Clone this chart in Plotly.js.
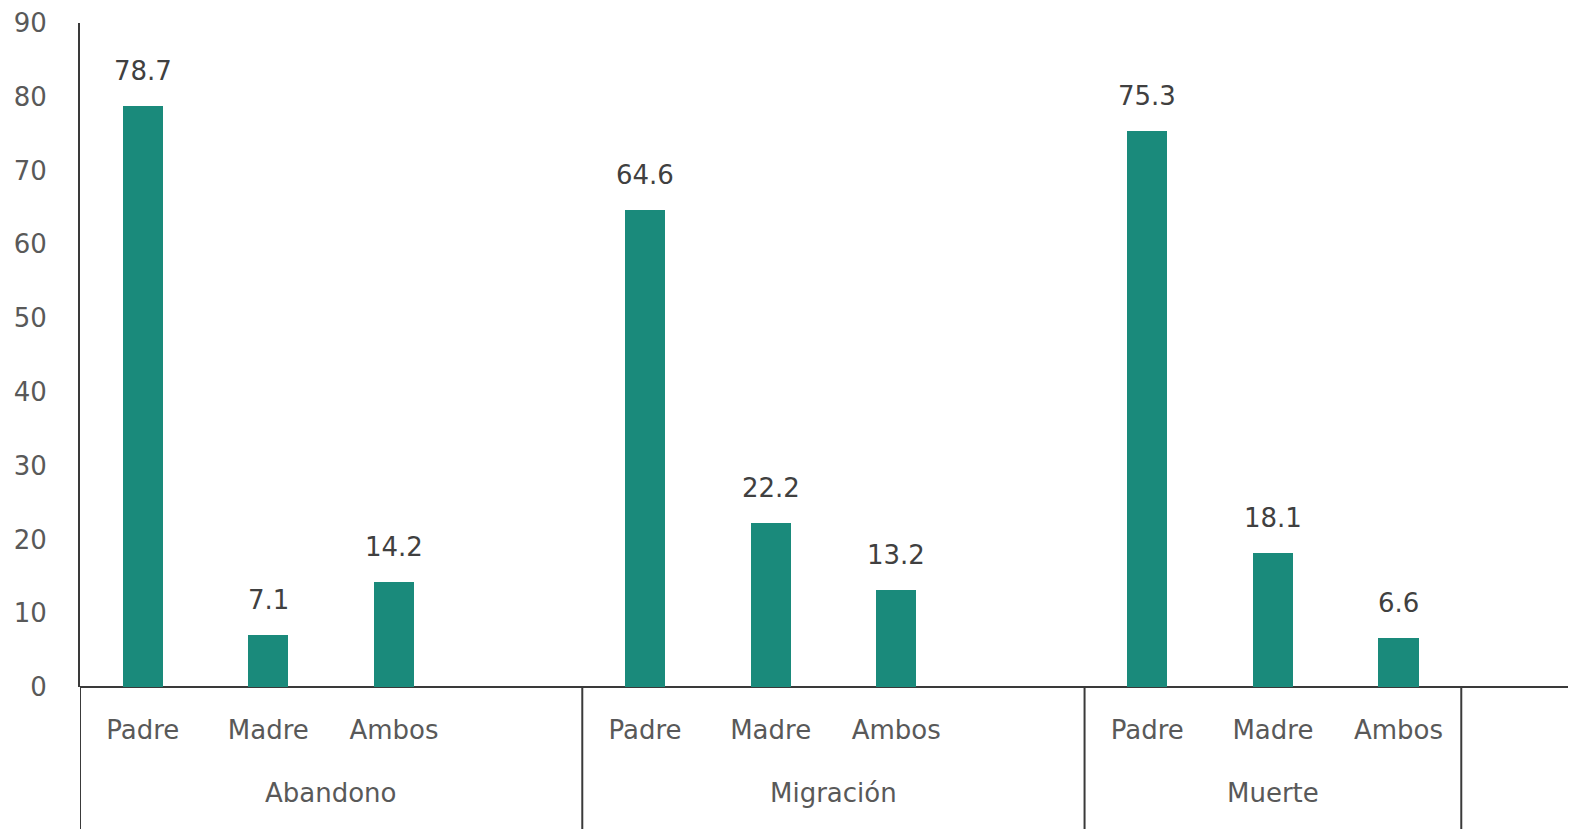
<!DOCTYPE html>
<html>
<head>
<meta charset="utf-8">
<script src="https://cdn.plot.ly/plotly-3.0.1.min.js"></script>
<style>html,body{margin:0;padding:0;background:#fff;overflow:hidden;}#chart{width:1596px;height:829px;display:block;}</style>
</head>
<body>
<div id="chart"></div>
<script>
var groups = ["Abandono", "Migración", "Muerte"];
var categories = ["Padre", "Madre", "Ambos"];
var abandono = [78.7, 7.1, 14.2];
var migracion = [64.6, 22.2, 13.2];
var muerte = [75.3, 18.1, 6.6];
var yTicks = [0, 10, 20, 30, 40, 50, 60, 70, 80, 90];

var seriesByGroup = [abandono, migracion, muerte];
var slotsPerGroup = 4;
var xs = [], ys = [], tickvals = [], ticktext = [], labels = [];
seriesByGroup.forEach(function (vals, g) {
  vals.forEach(function (v, c) {
    var pos = g * slotsPerGroup + c;
    xs.push(pos); ys.push(v); labels.push(v.toFixed(1));
    tickvals.push(pos); ticktext.push(categories[c]);
  });
});

var fontFam = "'DejaVu Sans', sans-serif";
var fs = 26;
var lineCol = "#3a3a3a";

// group boundaries
var bounds = [-0.5];
for (var g = 0; g < groups.length; g++) {
  bounds.push(g * slotsPerGroup + categories.length - 0.5 + (g < groups.length - 1 ? 1 : 0));
}
var shapes = bounds.map(function (b) {
  return {type: "line", xref: "x", yref: "paper", x0: b, x1: b, y0: 0, y1: -0.23,
          line: {color: lineCol, width: 2}};
});
var annotations = groups.map(function (name, g) {
  return {xref: "x", yref: "paper", x: (bounds[g] + bounds[g + 1]) / 2, y: -0.16,
          text: name, showarrow: false, yanchor: "middle",
          font: {family: fontFam, size: fs, color: "#595959"}};
});
xs.forEach(function (x, i) {
  annotations.push({xref: "x", yref: "y", x: x, y: ys[i], text: labels[i],
    showarrow: false, yanchor: "bottom", yshift: 18,
    font: {family: fontFam, size: fs, color: "#404040"}});
});

var trace = {
  type: "bar", x: xs, y: ys, width: 0.32,
  marker: {color: "#1a8a7b"},
  hoverinfo: "none"
};

var layout = {
  width: 1596, height: 829,
  margin: {l: 80, r: 28, t: 23, b: 142},
  paper_bgcolor: "#fff", plot_bgcolor: "#fff",
  showlegend: false,
  bargap: 0,
  xaxis: {range: [-0.5, 11.35], tickvals: tickvals, ticktext: ticktext,
          showgrid: false, zeroline: false, showline: false,
          ticks: "", ticklabelstandoff: 25, automargin: false,
          tickfont: {family: fontFam, size: fs, color: "#595959"}, fixedrange: true},
  yaxis: {range: [0, 90], tickvals: yTicks, showgrid: false, zeroline: true,
          zerolinecolor: lineCol, zerolinewidth: 2,
          showline: true, linecolor: lineCol, linewidth: 2,
          ticks: "", ticklabelstandoff: 26, automargin: false,
          tickfont: {family: fontFam, size: fs, color: "#595959"}, fixedrange: true},
  shapes: shapes,
  annotations: annotations,
  font: {family: fontFam}
};

Plotly.newPlot("chart", [trace], layout, {displayModeBar: false, staticPlot: true});
</script>
</body>
</html>
